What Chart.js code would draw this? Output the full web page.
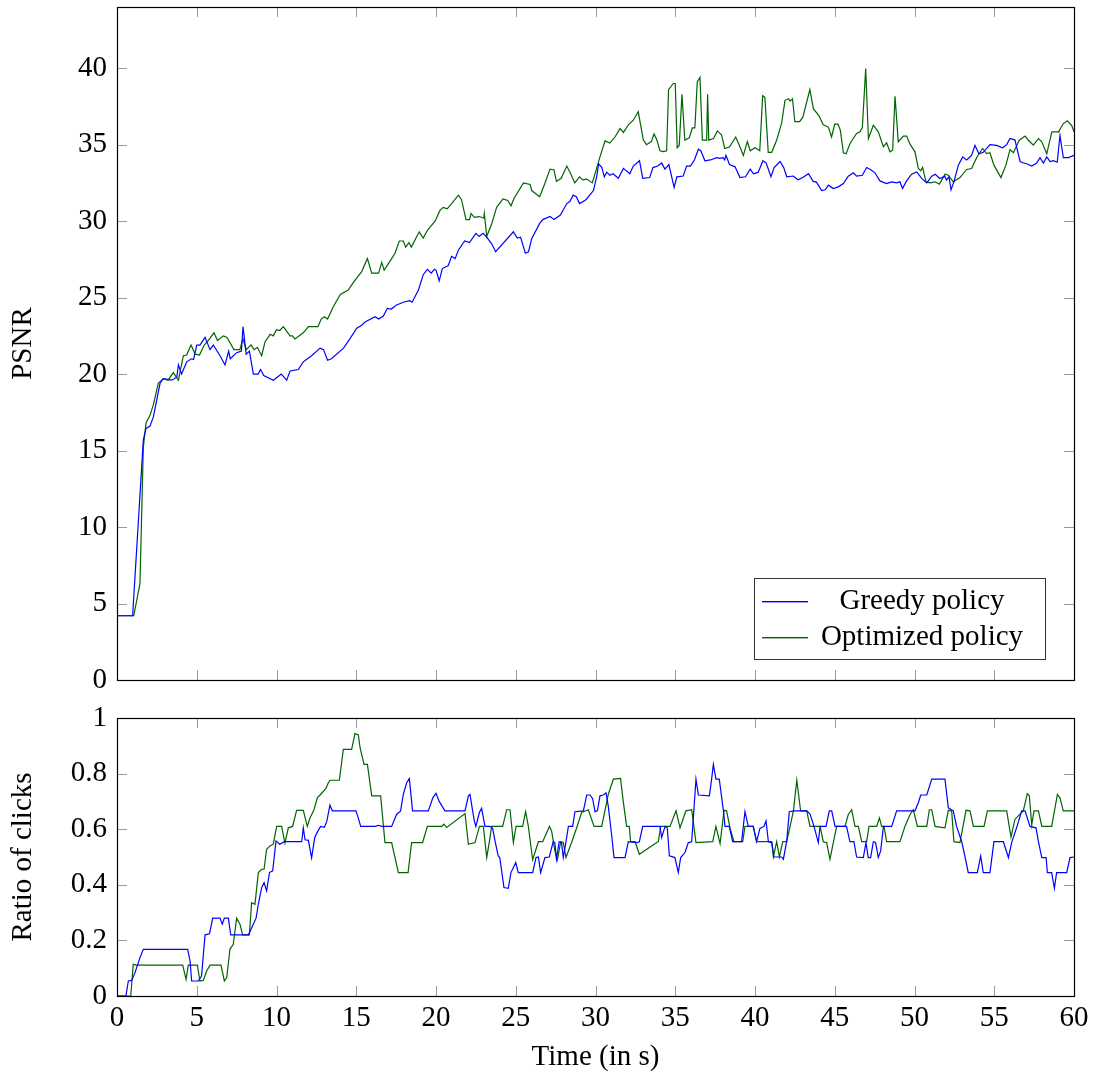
<!DOCTYPE html>
<html>
<head>
<meta charset="utf-8">
<script src="https://cdn.jsdelivr.net/npm/chart.js@4.4.1/dist/chart.umd.min.js"></script>
<style>
  body { margin: 0; background: #fff; }
  canvas { position: absolute; left: 0; }
  #psnrChart { top: 0; }
  #clickChart { top: 700px; }
</style>
</head>
<body>
<canvas id="psnrChart" width="1094" height="700"></canvas>
<canvas id="clickChart" width="1094" height="376"></canvas>
<script>
// PSNR over time, greedy policy
var psnrGreedyT = [0, 0.98, 1.65, 1.82, 2.07, 2.28, 2.7, 2.9, 3.43, 3.75, 3.85, 4.05, 4.37, 4.67, 4.8, 5.0, 5.2, 5.52, 5.83, 6.04, 6.46, 6.77, 7.0, 7.1, 7.5, 7.8, 7.9, 8.1, 8.3, 8.55, 8.85, 9.0, 9.2, 9.8, 10.3, 10.64, 10.85, 11.37, 11.68, 12.2, 12.73, 12.95, 13.2, 13.45, 14.2, 14.6, 15.03, 15.34, 15.55, 16.18, 16.4, 16.7, 16.95, 17.2, 17.5, 17.95, 18.35, 18.5, 18.9, 19.2, 19.46, 19.7, 19.9, 20.0, 20.2, 20.4, 20.77, 20.98, 21.2, 21.4, 21.8, 22.1, 22.5, 22.7, 22.95, 23.18, 23.5, 23.74, 24.85, 25.1, 25.3, 25.6, 25.8, 26.0, 26.5, 26.7, 27.15, 27.4, 27.8, 28.2, 28.4, 28.6, 28.8, 29.0, 29.4, 29.87, 30.07, 30.2, 30.4, 30.55, 30.7, 30.9, 31.1, 31.43, 31.75, 32.15, 32.37, 32.76, 32.96, 33.4, 33.6, 33.9, 34.15, 34.35, 34.6, 34.93, 35.1, 35.5, 35.71, 35.95, 36.2, 36.45, 36.6, 36.86, 37.2, 37.6, 37.8, 38.0, 38.1, 38.18, 38.4, 38.75, 39.06, 39.4, 39.7, 39.9, 40.2, 40.5, 40.7, 41.0, 41.2, 41.57, 41.8, 41.99, 42.4, 42.7, 43.0, 43.35, 43.65, 43.85, 44.18, 44.4, 44.6, 44.91, 45.22, 45.54, 45.85, 46.17, 46.37, 46.73, 47.0, 47.31, 47.52, 47.83, 48.25, 48.57, 48.88, 49.09, 49.25, 49.5, 49.82, 50.14, 50.45, 50.77, 51.08, 51.29, 51.6, 51.9, 52.0, 52.16, 52.29, 52.48, 52.75, 53.02, 53.27, 53.58, 53.79, 54.04, 54.31, 54.73, 55.15, 55.53, 55.78, 55.99, 56.3, 56.62, 56.83, 57.03, 57.35, 57.66, 57.87, 58.08, 58.29, 58.5, 58.7, 58.95, 59.12, 59.33, 59.65, 60];
var psnrGreedy = [4.2, 4.2, 15.7, 16.45, 16.6, 17.2, 19.4, 19.7, 19.6, 19.8, 20.6, 20.0, 20.8, 21.0, 20.95, 21.9, 21.9, 22.4, 21.6, 21.9, 21.2, 20.6, 21.5, 21.0, 21.4, 21.5, 23.1, 21.3, 21.5, 20.0, 20.0, 20.3, 19.9, 19.6, 20.0, 19.6, 20.2, 20.3, 20.8, 21.2, 21.7, 21.6, 20.9, 21.0, 21.7, 22.3, 23.0, 23.2, 23.4, 23.75, 23.6, 23.8, 24.3, 24.25, 24.5, 24.7, 24.8, 24.7, 25.5, 26.5, 26.85, 26.6, 26.85, 26.8, 26.1, 26.9, 27.1, 27.7, 27.55, 28.1, 28.7, 28.6, 29.2, 29.0, 29.2, 28.95, 28.5, 28.0, 29.3, 28.9, 28.95, 27.9, 28.0, 28.85, 29.85, 30.1, 30.3, 30.1, 30.4, 31.15, 31.3, 31.7, 31.6, 31.15, 31.4, 32.0, 32.9, 33.75, 33.5, 32.9, 33.2, 33.0, 33.1, 32.8, 33.45, 33.1, 33.6, 33.95, 32.8, 32.85, 33.5, 33.6, 33.8, 33.4, 33.7, 32.2, 32.9, 32.95, 33.6, 33.6, 34.0, 34.7, 34.6, 33.95, 34.0, 34.15, 34.1, 34.15, 34.0, 34.3, 33.7, 33.55, 32.85, 32.9, 33.4, 33.1, 33.2, 33.95, 33.8, 32.9, 33.5, 33.9, 33.5, 32.9, 32.95, 32.7, 32.85, 33.1, 32.6, 32.55, 32.0, 32.05, 32.35, 32.13, 32.24, 32.46, 32.94, 33.16, 32.94, 33.0, 33.51, 33.33, 33.16, 32.63, 32.46, 32.57, 32.5, 32.57, 32.13, 32.63, 33.07, 33.22, 32.79, 32.5, 32.94, 33.07, 32.79, 32.94, 32.68, 32.9, 32.05, 32.6, 33.66, 34.2, 34.0, 34.3, 34.95, 34.4, 34.5, 35.0, 34.95, 34.8, 35.0, 35.4, 35.3, 33.9, 33.8, 33.75, 33.6, 33.8, 34.15, 33.8, 34.2, 33.9, 33.95, 33.85, 35.6, 34.15, 34.15, 34.3];

// PSNR over time, optimized policy
var psnrOptT = [0, 1.05, 1.44, 1.65, 1.82, 2.07, 2.28, 2.59, 2.9, 3.2, 3.53, 3.85, 4.16, 4.37, 4.64, 4.9, 5.17, 5.47, 5.73, 6.08, 6.3, 6.67, 6.9, 7.33, 7.7, 7.9, 8.1, 8.4, 8.6, 8.8, 9.07, 9.28, 9.6, 9.8, 10.0, 10.2, 10.43, 10.85, 11.0, 11.16, 11.68, 12.0, 12.6, 12.8, 13.0, 13.2, 13.56, 14.0, 14.5, 14.82, 15.34, 15.7, 15.97, 16.4, 16.6, 16.75, 17.1, 17.43, 17.7, 17.95, 18.1, 18.3, 18.45, 18.95, 19.2, 19.46, 19.94, 20.25, 20.45, 20.7, 20.98, 21.4, 21.6, 21.88, 22.1, 22.2, 22.4, 22.7, 23.0, 23.03, 23.18, 23.5, 23.8, 24.2, 24.5, 24.7, 24.9, 25.48, 25.9, 26.0, 26.5, 26.8, 27.15, 27.4, 27.55, 27.85, 28.2, 28.4, 28.7, 29.0, 29.2, 29.45, 29.8, 30.07, 30.28, 30.6, 30.9, 31.22, 31.54, 31.75, 32.06, 32.37, 32.68, 33.0, 33.2, 33.5, 33.67, 33.85, 34.04, 34.25, 34.46, 34.58, 34.88, 35.0, 35.12, 35.25, 35.42, 35.6, 35.88, 36.07, 36.23, 36.38, 36.55, 36.7, 36.97, 37.03, 37.1, 37.4, 37.64, 37.9, 38.1, 38.4, 38.79, 39.0, 39.27, 39.52, 39.7, 40.0, 40.3, 40.48, 40.62, 40.83, 41.05, 41.36, 41.67, 41.88, 42.1, 42.2, 42.35, 42.5, 42.8, 43.0, 43.44, 43.66, 44.0, 44.28, 44.6, 44.8, 45.0, 45.2, 45.35, 45.54, 45.71, 45.96, 46.37, 46.58, 46.73, 46.94, 47.11, 47.42, 47.73, 48.05, 48.25, 48.46, 48.63, 48.78, 48.98, 49.3, 49.51, 49.72, 50.03, 50.24, 50.39, 50.51, 50.72, 50.97, 51.29, 51.56, 51.91, 52.12, 52.43, 52.85, 53.27, 53.58, 53.9, 54.27, 54.52, 54.73, 54.98, 55.42, 55.73, 55.99, 56.2, 56.57, 56.93, 57.14, 57.45, 57.77, 57.98, 58.29, 58.61, 59.03, 59.33, 59.58, 59.85, 60];
var psnrOpt = [4.2, 4.2, 6.3, 15.2, 16.8, 17.3, 18.0, 19.4, 19.7, 19.6, 20.1, 19.6, 21.2, 21.25, 21.9, 21.3, 21.25, 21.9, 22.2, 22.7, 22.2, 22.5, 22.4, 21.6, 21.6, 22.3, 21.6, 21.9, 21.6, 21.75, 21.2, 22.1, 22.6, 22.5, 22.9, 22.85, 23.1, 22.5, 22.5, 22.3, 22.7, 23.1, 23.1, 23.6, 23.75, 23.6, 24.4, 25.2, 25.5, 26.0, 26.7, 27.55, 26.6, 26.6, 27.3, 26.8, 27.35, 27.9, 28.7, 28.7, 28.3, 28.6, 28.3, 29.3, 28.9, 29.4, 30.0, 30.7, 30.9, 30.8, 31.15, 31.7, 31.4, 30.1, 30.1, 30.5, 30.25, 30.3, 30.2, 30.5, 29.0, 29.85, 30.9, 31.45, 31.35, 31.0, 31.5, 32.5, 32.4, 32.0, 31.6, 32.4, 33.4, 33.35, 32.6, 32.8, 33.6, 33.2, 32.5, 32.9, 32.7, 32.75, 32.5, 33.45, 34.2, 35.25, 35.1, 35.5, 36.05, 35.8, 36.3, 36.6, 37.15, 35.3, 35.0, 35.2, 35.7, 35.3, 34.6, 34.55, 34.6, 38.6, 39.0, 39.0, 34.8, 34.95, 38.3, 35.3, 35.45, 36.1, 36.1, 39.1, 39.4, 35.3, 35.3, 38.3, 35.3, 35.4, 35.9, 35.65, 34.75, 34.85, 35.5, 35.0, 34.3, 35.2, 34.6, 34.8, 34.6, 38.2, 38.1, 34.5, 34.5, 35.3, 36.4, 37.9, 38.0, 37.85, 38.0, 36.5, 36.5, 36.8, 38.6, 37.35, 36.9, 36.3, 36.15, 35.5, 36.34, 36.34, 35.95, 34.47, 34.4, 35.08, 35.73, 35.84, 36.12, 39.98, 35.4, 36.27, 35.84, 34.86, 35.12, 34.53, 34.64, 38.17, 35.19, 35.56, 35.56, 35.03, 34.53, 33.44, 33.29, 33.51, 32.57, 32.5, 32.57, 32.42, 33.07, 33.0, 32.57, 32.85, 33.38, 33.44, 34.16, 34.75, 34.42, 34.47, 33.66, 32.85, 33.66, 34.68, 34.47, 35.29, 35.56, 35.29, 34.97, 35.4, 35.19, 34.4, 35.84, 35.84, 36.38, 36.56, 36.27, 35.84];

// Ratio of clicks over time, greedy policy
var clickGreedyT = [0, 0.56, 0.71, 0.92, 1.13, 1.44, 1.65, 4.43, 4.58, 4.68, 5.1, 5.3, 5.52, 5.8, 6.0, 6.46, 6.6, 6.73, 6.98, 7.13, 8.24, 8.45, 8.72, 8.86, 9.07, 9.22, 9.38, 9.56, 9.76, 9.97, 10.2, 10.5, 11.58, 11.68, 11.79, 12.0, 12.2, 12.4, 12.6, 12.77, 13.0, 13.15, 13.35, 13.5, 14.98, 15.13, 15.28, 16.18, 16.4, 16.6, 17.22, 17.53, 17.78, 17.95, 18.16, 18.33, 18.53, 19.52, 19.8, 20.0, 20.2, 20.56, 21.82, 22.03, 22.13, 22.4, 22.5, 22.72, 22.86, 23.07, 23.39, 23.55, 23.7, 23.9, 24.0, 24.26, 24.53, 24.7, 25.0, 25.16, 26.06, 26.27, 26.42, 26.56, 26.83, 27.1, 27.35, 27.45, 27.55, 27.72, 27.87, 27.98, 28.15, 28.3, 28.57, 28.71, 29.24, 29.45, 29.66, 29.82, 29.97, 30.12, 30.28, 30.49, 30.66, 30.8, 31.01, 31.16, 31.85, 32.06, 32.58, 32.75, 32.96, 34.04, 34.15, 34.36, 34.5, 34.63, 34.98, 35.19, 35.34, 35.61, 35.82, 36.03, 36.3, 36.45, 37.14, 37.28, 37.39, 37.55, 37.76, 38.02, 38.12, 38.39, 38.6, 39.16, 39.37, 39.58, 39.89, 40.1, 40.31, 40.56, 40.69, 40.84, 41.05, 41.19, 41.67, 41.78, 41.99, 42.15, 42.41, 43.24, 43.45, 43.7, 43.97, 44.08, 44.45, 44.66, 44.81, 45.02, 45.74, 45.95, 46.2, 46.37, 46.79, 46.96, 47.1, 47.25, 47.42, 47.56, 47.73, 47.88, 48.05, 48.57, 48.88, 50.03, 50.24, 50.39, 50.77, 51.08, 51.91, 52.12, 52.43, 52.64, 52.96, 53.17, 53.37, 53.94, 54.15, 54.31, 54.73, 54.98, 55.57, 55.89, 56.09, 56.4, 56.72, 56.93, 57.24, 57.62, 57.77, 57.98, 58.25, 58.33, 58.6, 58.77, 58.91, 59.54, 59.75, 60];
var clickGreedy = [0, 0, 0.054, 0.056, 0.084, 0.138, 0.168, 0.168, 0.126, 0.054, 0.054, 0.072, 0.22, 0.224, 0.28, 0.28, 0.258, 0.28, 0.28, 0.22, 0.22, 0.246, 0.28, 0.33, 0.39, 0.408, 0.378, 0.444, 0.45, 0.558, 0.546, 0.555, 0.555, 0.605, 0.562, 0.56, 0.497, 0.57, 0.594, 0.61, 0.607, 0.627, 0.687, 0.666, 0.666, 0.64, 0.61, 0.61, 0.614, 0.61, 0.61, 0.653, 0.666, 0.725, 0.767, 0.782, 0.666, 0.666, 0.713, 0.729, 0.7, 0.666, 0.666, 0.72, 0.725, 0.63, 0.61, 0.66, 0.675, 0.61, 0.61, 0.604, 0.558, 0.504, 0.498, 0.39, 0.387, 0.444, 0.48, 0.444, 0.444, 0.498, 0.5, 0.444, 0.498, 0.5, 0.555, 0.552, 0.492, 0.555, 0.552, 0.498, 0.555, 0.61, 0.61, 0.663, 0.666, 0.723, 0.723, 0.71, 0.663, 0.666, 0.72, 0.723, 0.731, 0.683, 0.58, 0.498, 0.498, 0.555, 0.552, 0.555, 0.61, 0.61, 0.57, 0.61, 0.605, 0.504, 0.498, 0.444, 0.498, 0.516, 0.552, 0.555, 0.78, 0.723, 0.72, 0.78, 0.833, 0.78, 0.78, 0.666, 0.61, 0.61, 0.555, 0.555, 0.663, 0.61, 0.61, 0.555, 0.603, 0.61, 0.63, 0.555, 0.552, 0.5, 0.5, 0.492, 0.558, 0.663, 0.666, 0.666, 0.654, 0.61, 0.552, 0.61, 0.61, 0.666, 0.666, 0.61, 0.61, 0.555, 0.555, 0.5, 0.498, 0.552, 0.498, 0.498, 0.555, 0.552, 0.498, 0.522, 0.61, 0.61, 0.666, 0.666, 0.695, 0.723, 0.723, 0.78, 0.78, 0.677, 0.666, 0.61, 0.555, 0.5, 0.444, 0.444, 0.504, 0.444, 0.444, 0.555, 0.555, 0.498, 0.552, 0.605, 0.666, 0.666, 0.61, 0.605, 0.555, 0.498, 0.498, 0.444, 0.444, 0.387, 0.444, 0.444, 0.498, 0.5];

// Ratio of clicks over time, optimized policy
var clickOptT = [0, 0.86, 1.02, 1.23, 4.12, 4.33, 4.47, 5.04, 5.2, 5.41, 5.62, 5.83, 6.52, 6.73, 6.88, 7.08, 7.29, 7.5, 7.71, 7.88, 8.3, 8.44, 8.65, 8.86, 9.07, 9.22, 9.38, 9.59, 9.8, 10.01, 10.32, 10.53, 10.74, 11.01, 11.26, 11.68, 11.93, 12.1, 12.35, 12.56, 12.73, 13.1, 13.25, 13.35, 13.94, 14.19, 14.71, 14.92, 15.13, 15.24, 15.49, 15.7, 15.97, 16.53, 16.8, 17.22, 17.43, 17.64, 18.25, 18.47, 19.16, 19.46, 20.35, 20.5, 20.67, 21.82, 22.03, 22.45, 22.72, 22.97, 23.18, 23.35, 23.49, 24.18, 24.43, 24.64, 24.85, 25.02, 25.43, 25.62, 25.79, 26.06, 26.42, 26.69, 27.11, 27.25, 27.46, 27.61, 27.82, 27.98, 28.15, 28.5, 28.82, 29.13, 29.55, 29.91, 30.39, 30.59, 30.8, 31.12, 31.57, 31.74, 31.95, 32.12, 32.2, 32.48, 32.75, 33.84, 33.94, 34.09, 34.67, 35.05, 35.3, 35.67, 36.03, 36.3, 37.35, 37.55, 37.81, 38.06, 38.22, 38.43, 38.68, 39.23, 39.37, 39.89, 40.1, 41.05, 41.15, 41.36, 41.53, 41.74, 41.99, 42.41, 42.62, 42.86, 43.24, 43.45, 44.08, 44.28, 44.49, 44.7, 44.91, 45.12, 45.64, 45.85, 46.06, 46.27, 46.48, 46.69, 47.0, 47.15, 47.63, 47.8, 47.94, 48.09, 48.25, 49.09, 49.4, 49.72, 49.93, 50.18, 50.77, 50.93, 51.08, 51.29, 51.91, 52.12, 52.33, 52.47, 52.85, 53.23, 53.48, 53.69, 54.36, 54.57, 55.78, 56.05, 56.3, 56.82, 57.07, 57.2, 57.35, 57.49, 57.77, 57.98, 58.6, 58.96, 59.12, 59.33, 60];
var clickOpt = [0, 0, 0.114, 0.111, 0.111, 0.06, 0.111, 0.111, 0.054, 0.056, 0.09, 0.111, 0.111, 0.054, 0.066, 0.168, 0.186, 0.28, 0.258, 0.22, 0.22, 0.336, 0.33, 0.444, 0.456, 0.456, 0.528, 0.54, 0.546, 0.61, 0.61, 0.55, 0.605, 0.61, 0.668, 0.668, 0.61, 0.64, 0.67, 0.713, 0.723, 0.747, 0.767, 0.776, 0.776, 0.887, 0.887, 0.944, 0.939, 0.893, 0.833, 0.833, 0.72, 0.72, 0.552, 0.552, 0.498, 0.444, 0.444, 0.552, 0.552, 0.61, 0.61, 0.618, 0.606, 0.656, 0.546, 0.552, 0.61, 0.61, 0.498, 0.556, 0.61, 0.61, 0.67, 0.67, 0.552, 0.61, 0.61, 0.663, 0.61, 0.49, 0.555, 0.555, 0.61, 0.593, 0.52, 0.49, 0.555, 0.552, 0.498, 0.552, 0.605, 0.66, 0.67, 0.61, 0.61, 0.666, 0.725, 0.78, 0.783, 0.7, 0.61, 0.61, 0.555, 0.555, 0.51, 0.552, 0.555, 0.61, 0.61, 0.666, 0.605, 0.666, 0.67, 0.552, 0.555, 0.61, 0.548, 0.668, 0.666, 0.605, 0.555, 0.555, 0.61, 0.61, 0.555, 0.555, 0.5, 0.555, 0.5, 0.555, 0.555, 0.666, 0.776, 0.666, 0.666, 0.61, 0.61, 0.555, 0.552, 0.492, 0.552, 0.61, 0.61, 0.653, 0.67, 0.61, 0.61, 0.555, 0.555, 0.61, 0.61, 0.641, 0.61, 0.61, 0.555, 0.555, 0.61, 0.653, 0.67, 0.61, 0.61, 0.67, 0.67, 0.61, 0.605, 0.668, 0.666, 0.555, 0.552, 0.668, 0.666, 0.61, 0.61, 0.666, 0.666, 0.572, 0.636, 0.666, 0.728, 0.72, 0.615, 0.666, 0.666, 0.61, 0.61, 0.725, 0.713, 0.666, 0.666];

// tick labels
var timeTicks = [0, 5, 10, 15, 20, 25, 30, 35, 40, 45, 50, 55, 60];
var psnrTicks = [0, 5, 10, 15, 20, 25, 30, 35, 40];
var ratioTicks = [0, 0.2, 0.4, 0.6, 0.8, 1];
var seriesNames = ["Greedy policy", "Optimized policy"];

var blue = "#0000ff";
var green = "#006400";
var seriesColors = [blue, green];
var fontFamily = "'Liberation Serif', 'Times New Roman', serif";

function toPoints(ts, vs) {
  return ts.map(function(t, i) { return {x: t, y: vs[i]}; });
}

// frame + inward ticks on all four sides, optional legend box
var frameTicks = {
  id: "frameTicks",
  beforeDatasetsDraw: function(chart, args, opts) {
    var ctx = chart.ctx, a = chart.chartArea;
    var xs = chart.scales.x, ys = chart.scales.y;
    var len = 10;
    ctx.save();
    ctx.strokeStyle = "#999";
    ctx.lineWidth = 1;
    ctx.beginPath();
    opts.xTicks.forEach(function(v) {
      var px = Math.round(xs.getPixelForValue(v)) + 0.5;
      ctx.moveTo(px, a.bottom); ctx.lineTo(px, a.bottom - len);
      ctx.moveTo(px, a.top); ctx.lineTo(px, a.top + len);
    });
    opts.yTicks.forEach(function(v) {
      var py = Math.round(ys.getPixelForValue(v)) + 0.5;
      ctx.moveTo(a.left, py); ctx.lineTo(a.left + len, py);
      ctx.moveTo(a.right, py); ctx.lineTo(a.right - len, py);
    });
    ctx.stroke();
    ctx.restore();
  },
  afterDraw: function(chart, args, opts) {
    var ctx = chart.ctx, a = chart.chartArea;
    ctx.save();
    ctx.strokeStyle = "#000";
    ctx.lineWidth = 1.2;
    ctx.strokeRect(Math.round(a.left) + 0.5, Math.round(a.top) + 0.5,
      Math.round(a.right - a.left), Math.round(a.bottom - a.top));
    if (opts.legend) {
      var lx = a.right - 320, ly = a.bottom - 102, lw = 291, lh = 81;
      ctx.fillStyle = "#fff";
      ctx.fillRect(lx, ly, lw, lh);
      ctx.strokeStyle = "#333";
      ctx.lineWidth = 1;
      ctx.strokeRect(lx + 0.5, ly + 0.5, lw, lh);
      ctx.font = "29px " + fontFamily;
      ctx.textAlign = "center";
      ctx.textBaseline = "middle";
      seriesNames.forEach(function(name, i) {
        var yy = ly + 23 + i * 36;
        ctx.fillStyle = seriesColors[i];
        ctx.fillRect(lx + 8, yy, 46, 1.4);
        ctx.fillStyle = "#000";
        ctx.fillText(name, lx + 168, yy);
      });
    }
    ctx.restore();
  }
};

function lineSet(label, pts, color) {
  return {
    label: label,
    data: pts,
    borderColor: color,
    backgroundColor: color,
    borderWidth: 1.2,
    pointRadius: 0,
    tension: 0,
    fill: false
  };
}

// keep the plot box fixed: no extra room for overhanging tick labels
function fixWidth(w) {
  return function(s) { s.width = w; s.paddingTop = 0; s.paddingBottom = 0; };
}
function fixHeight(h) {
  return function(s) { s.height = h; s.paddingLeft = 0; s.paddingRight = 0; };
}

var tickFont = {family: fontFamily, size: 29};

new Chart(document.getElementById("psnrChart"), {
  type: "line",
  data: {
    datasets: [
      lineSet(seriesNames[0], toPoints(psnrGreedyT, psnrGreedy), blue),
      lineSet(seriesNames[1], toPoints(psnrOptT, psnrOpt), green)
    ]
  },
  options: {
    responsive: false,
    animation: false,
    layout: {padding: {left: 0, right: 20, top: 7, bottom: 0}},
    plugins: {
      legend: {display: false},
      tooltip: {enabled: false},
      frameTicks: {xTicks: timeTicks, yTicks: psnrTicks, legend: true}
    },
    scales: {
      x: {
        type: "linear", min: 0, max: 60,
        afterBuildTicks: function(s) { s.ticks = timeTicks.map(function(v) { return {value: v}; }); },
        afterFit: fixHeight(20),
        grid: {display: false, drawTicks: false},
        border: {display: false},
        ticks: {display: false}
      },
      y: {
        min: 0, max: 44,
        afterBuildTicks: function(s) { s.ticks = psnrTicks.map(function(v) { return {value: v}; }); },
        afterFit: fixWidth(117),
        grid: {display: false, drawTicks: false},
        border: {display: false},
        ticks: {color: "#000", font: tickFont, padding: 10, autoSkip: false},
        title: {display: true, text: "PSNR", color: "#000", font: tickFont, padding: {top: 6, bottom: 0}}
      }
    }
  },
  plugins: [frameTicks]
});

new Chart(document.getElementById("clickChart"), {
  type: "line",
  data: {
    datasets: [
      lineSet(seriesNames[0], toPoints(clickGreedyT, clickGreedy), blue),
      lineSet(seriesNames[1], toPoints(clickOptT, clickOpt), green)
    ]
  },
  options: {
    responsive: false,
    animation: false,
    layout: {padding: {left: 0, right: 20, top: 18, bottom: 0}},
    plugins: {
      legend: {display: false},
      tooltip: {enabled: false},
      frameTicks: {xTicks: timeTicks, yTicks: ratioTicks, legend: false}
    },
    scales: {
      x: {
        type: "linear", min: 0, max: 60,
        afterBuildTicks: function(s) { s.ticks = timeTicks.map(function(v) { return {value: v}; }); },
        afterFit: fixHeight(80),
        grid: {display: false, drawTicks: false},
        border: {display: false},
        ticks: {color: "#000", font: tickFont, padding: 5, autoSkip: false, maxRotation: 0},
        title: {display: true, text: "Time (in s)", color: "#000", font: tickFont, padding: {top: 0, bottom: 1}}
      },
      y: {
        min: 0, max: 1,
        afterBuildTicks: function(s) { s.ticks = ratioTicks.map(function(v) { return {value: v}; }); },
        afterFit: fixWidth(117),
        grid: {display: false, drawTicks: false},
        border: {display: false},
        ticks: {color: "#000", font: tickFont, padding: 10, autoSkip: false,
          callback: function(v) { return String(v); }},
        title: {display: true, text: "Ratio of clicks", color: "#000", font: tickFont, padding: {top: 6, bottom: 0}}
      }
    }
  },
  plugins: [frameTicks]
});
</script>
</body>
</html>
